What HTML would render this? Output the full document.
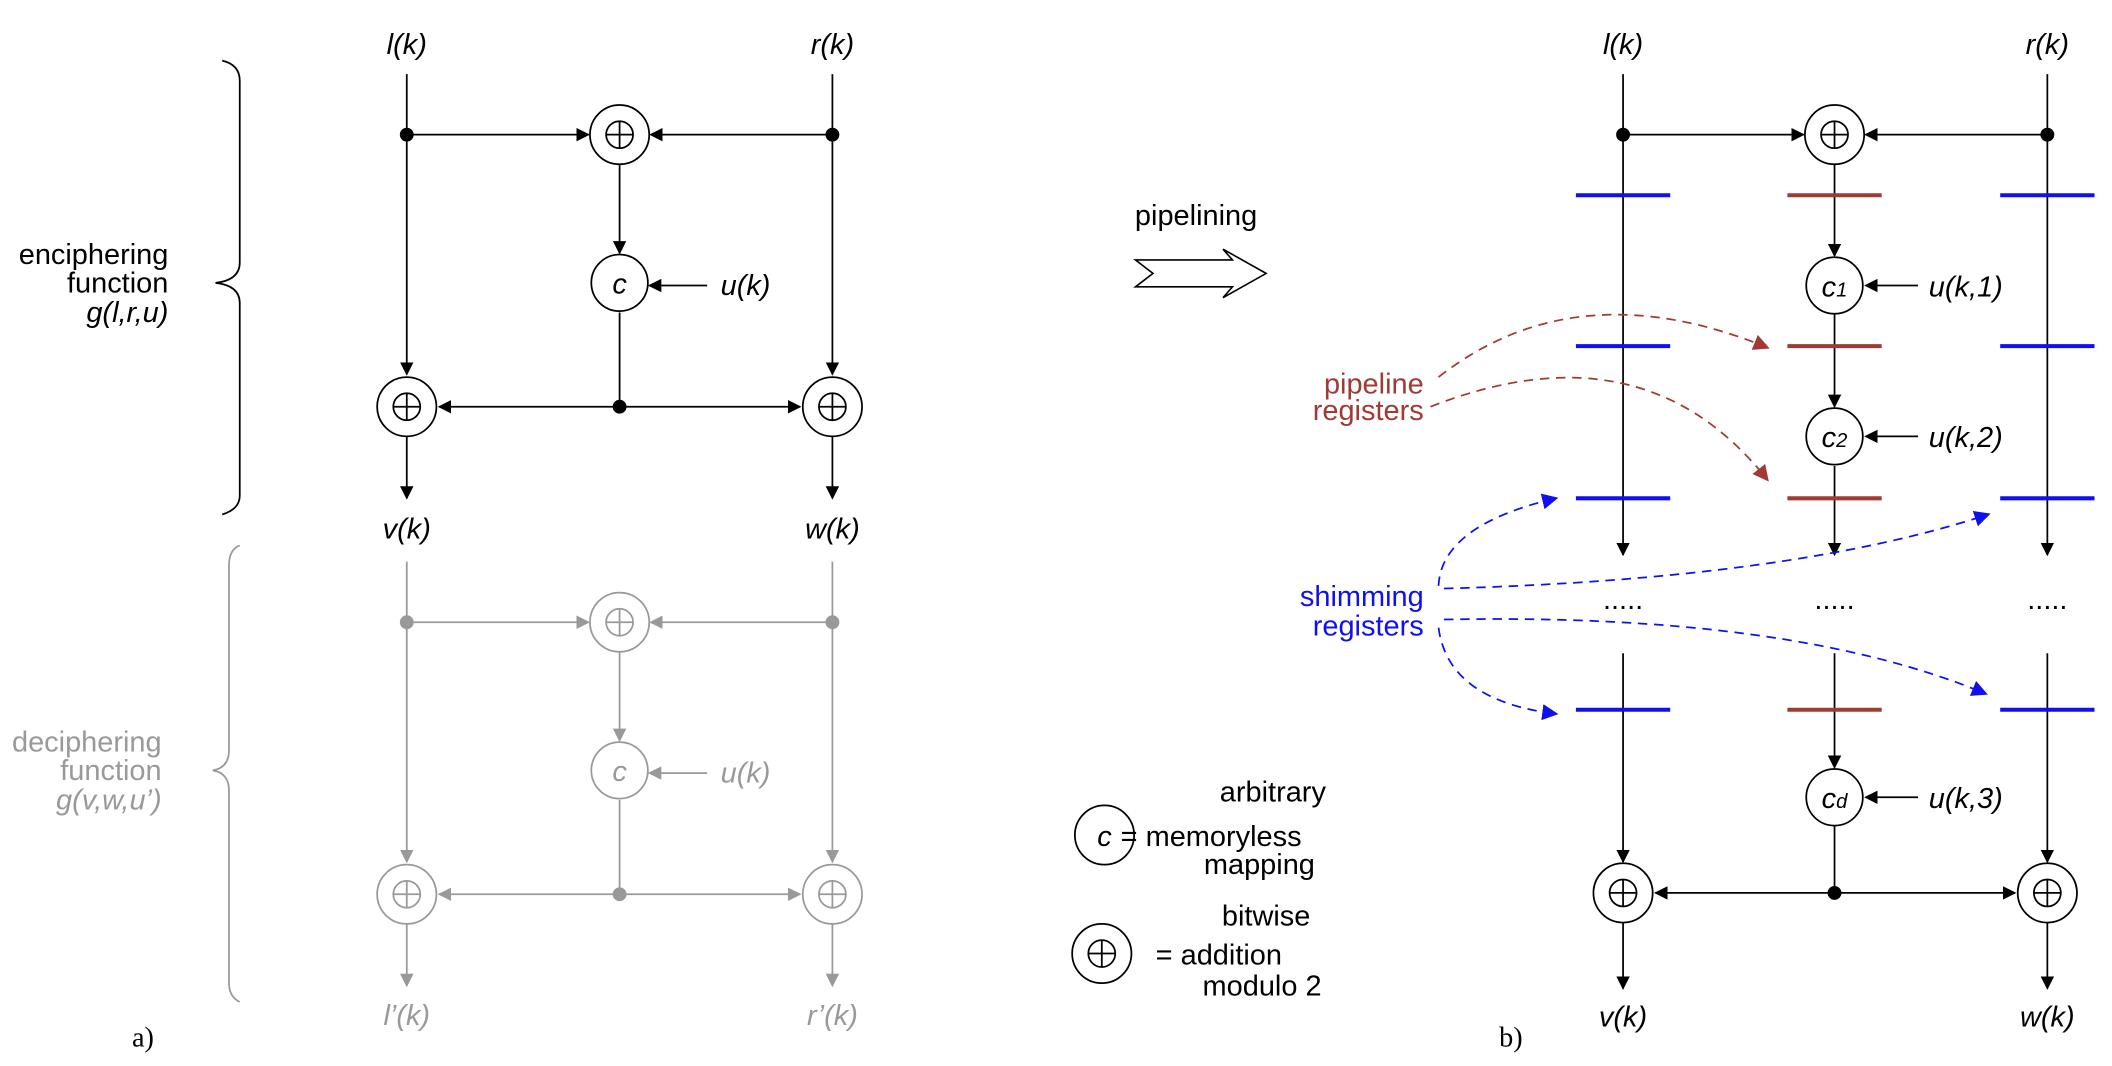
<!DOCTYPE html>
<html><head><meta charset="utf-8"><style>
html,body{margin:0;padding:0;background:#fff;}
svg{display:block;}
text{font-family:"Liberation Sans",Arial,sans-serif;font-size:21.5px;}
.it{font-style:italic;}
</style></head><body>
<svg width="2112" height="1066" viewBox="0 0 1568 791.5" preserveAspectRatio="none" xmlns="http://www.w3.org/2000/svg">
<defs>
<marker id="ak" markerWidth="10" markerHeight="10" refX="9" refY="5" orient="auto" markerUnits="userSpaceOnUse"><path d="M0,0 L10,5 L0,10 Z" fill="#000"/></marker>
<marker id="ag" markerWidth="10" markerHeight="10" refX="9" refY="5" orient="auto" markerUnits="userSpaceOnUse"><path d="M0,0 L10,5 L0,10 Z" fill="#999"/></marker>
<marker id="ar" markerWidth="12" markerHeight="12" refX="10" refY="6" orient="auto" markerUnits="userSpaceOnUse"><path d="M0,0 L12,6 L0,12 Z" fill="#a03a35"/></marker>
<marker id="ab" markerWidth="12" markerHeight="12" refX="10" refY="6" orient="auto" markerUnits="userSpaceOnUse"><path d="M0,0 L12,6 L0,12 Z" fill="#1010ee"/></marker>
</defs>

<g stroke="#000" fill="none" stroke-width="1.3">
<line x1="302" y1="55" x2="302" y2="278" marker-end="url(#ak)"/>
<line x1="618" y1="55" x2="618" y2="278" marker-end="url(#ak)"/>
<line x1="302" y1="100" x2="437" y2="100" marker-end="url(#ak)"/>
<line x1="618" y1="100" x2="483" y2="100" marker-end="url(#ak)"/>
<line x1="460" y1="122" x2="460" y2="188" marker-end="url(#ak)"/>
<line x1="525" y1="212" x2="482" y2="212" marker-end="url(#ak)"/>
<line x1="460" y1="232" x2="460" y2="302"/>
<line x1="460" y1="302" x2="326" y2="302" marker-end="url(#ak)"/>
<line x1="460" y1="302" x2="594" y2="302" marker-end="url(#ak)"/>
<line x1="302" y1="324" x2="302" y2="370" marker-end="url(#ak)"/>
<line x1="618" y1="324" x2="618" y2="370" marker-end="url(#ak)"/>
<circle cx="460" cy="100" r="22" fill="#fff"/><circle cx="460" cy="100" r="10"/><path d="M450,100H470M460,90V110"/>
<circle cx="460" cy="210" r="21" fill="#fff"/>
<circle cx="302" cy="302" r="22" fill="#fff"/><circle cx="302" cy="302" r="10"/><path d="M292,302H312M302,292V312"/>
<circle cx="618" cy="302" r="22" fill="#fff"/><circle cx="618" cy="302" r="10"/><path d="M608,302H628M618,292V312"/>
<circle cx="302" cy="100" r="4.5" fill="#000"/><circle cx="618" cy="100" r="4.5" fill="#000"/><circle cx="460" cy="302" r="4.5" fill="#000"/>
<path d="M165,45 Q178,48 178,60 L178,195 Q178,208 160,210 Q178,212 178,225 L178,368 Q178,378 165,382"/>
</g>
<text x="302" y="40" text-anchor="middle" class="it">l(k)</text>
<text x="618" y="40" text-anchor="middle" class="it">r(k)</text>
<text x="460" y="218" text-anchor="middle" class="it">c</text>
<text x="535" y="219" class="it">u(k)</text>
<text x="302" y="400" text-anchor="middle" class="it">v(k)</text>
<text x="618" y="400" text-anchor="middle" class="it">w(k)</text>
<text x="125" y="196" text-anchor="end">enciphering</text>
<text x="125" y="217" text-anchor="end">function</text>
<text x="125" y="239" text-anchor="end" class="it">g(l,r,u)</text>

<g stroke="#999" fill="none" stroke-width="1.3">
<line x1="302" y1="417" x2="302" y2="640" marker-end="url(#ag)"/>
<line x1="618" y1="417" x2="618" y2="640" marker-end="url(#ag)"/>
<line x1="302" y1="462" x2="437" y2="462" marker-end="url(#ag)"/>
<line x1="618" y1="462" x2="483" y2="462" marker-end="url(#ag)"/>
<line x1="460" y1="484" x2="460" y2="550" marker-end="url(#ag)"/>
<line x1="525" y1="574" x2="482" y2="574" marker-end="url(#ag)"/>
<line x1="460" y1="594" x2="460" y2="664"/>
<line x1="460" y1="664" x2="326" y2="664" marker-end="url(#ag)"/>
<line x1="460" y1="664" x2="594" y2="664" marker-end="url(#ag)"/>
<line x1="302" y1="686" x2="302" y2="732" marker-end="url(#ag)"/>
<line x1="618" y1="686" x2="618" y2="732" marker-end="url(#ag)"/>
<circle cx="460" cy="462" r="22" fill="#fff"/><circle cx="460" cy="462" r="10"/><path d="M450,462H470M460,452V472"/>
<circle cx="460" cy="572" r="21" fill="#fff"/>
<circle cx="302" cy="664" r="22" fill="#fff"/><circle cx="302" cy="664" r="10"/><path d="M292,664H312M302,654V674"/>
<circle cx="618" cy="664" r="22" fill="#fff"/><circle cx="618" cy="664" r="10"/><path d="M608,664H628M618,654V674"/>
<circle cx="302" cy="462" r="4.5" fill="#999"/><circle cx="618" cy="462" r="4.5" fill="#999"/><circle cx="460" cy="664" r="4.5" fill="#999"/>
<path d="M178,405 Q170,408 170,420 L170,557 Q170,570 158,572 Q170,574 170,587 L170,730 Q170,740 178,744"/>
</g>
<text x="460" y="580" text-anchor="middle" class="it" fill="#999">c</text>
<text x="535" y="581" class="it" fill="#999">u(k)</text>
<text x="302" y="761" text-anchor="middle" class="it" fill="#999">l’(k)</text>
<text x="618" y="761" text-anchor="middle" class="it" fill="#999">r’(k)</text>
<text x="120" y="558" text-anchor="end" fill="#999">deciphering</text>
<text x="120" y="579" text-anchor="end" fill="#999">function</text>
<text x="120" y="601" text-anchor="end" class="it" fill="#999">g(v,w,u’)</text>
<text x="98" y="777" style="font-family:'Liberation Serif',serif;font-size:21px">a)</text>

<text x="888" y="167" text-anchor="middle">pipelining</text>
<path d="M843,193 L915,193 L908,185 L940,203 L908,221 L915,213 L843,213 L856,203 Z" fill="#fff" stroke="#000" stroke-width="1.2"/>
<g stroke="#000" fill="none" stroke-width="1.3">
<circle cx="820" cy="620" r="22" fill="#fff"/>
<circle cx="818" cy="708" r="22"/><circle cx="818" cy="708" r="10"/><path d="M808,708H828M818,698V718"/>
</g>
<text x="820" y="628" text-anchor="middle" class="it">c</text>
<text x="945" y="595" text-anchor="middle">arbitrary</text>
<text x="832" y="628">= memoryless</text>
<text x="935" y="649" text-anchor="middle">mapping</text>
<text x="940" y="687" text-anchor="middle">bitwise</text>
<text x="858" y="716">= addition</text>
<text x="937" y="739" text-anchor="middle">modulo 2</text>

<g stroke="#000" fill="none" stroke-width="1.3">
<line x1="1205" y1="55" x2="1205" y2="412" marker-end="url(#ak)"/>
<line x1="1520" y1="55" x2="1520" y2="412" marker-end="url(#ak)"/>
<line x1="1205" y1="485" x2="1205" y2="640" marker-end="url(#ak)"/>
<line x1="1520" y1="485" x2="1520" y2="640" marker-end="url(#ak)"/>
<line x1="1205" y1="100" x2="1339" y2="100" marker-end="url(#ak)"/>
<line x1="1520" y1="100" x2="1385" y2="100" marker-end="url(#ak)"/>
<line x1="1362" y1="122" x2="1362" y2="190" marker-end="url(#ak)"/>
<line x1="1362" y1="233" x2="1362" y2="302" marker-end="url(#ak)"/>
<line x1="1362" y1="346" x2="1362" y2="412" marker-end="url(#ak)"/>
<line x1="1362" y1="485" x2="1362" y2="570" marker-end="url(#ak)"/>
<line x1="1362" y1="613" x2="1362" y2="663"/>
<line x1="1362" y1="663" x2="1229" y2="663" marker-end="url(#ak)"/>
<line x1="1362" y1="663" x2="1496" y2="663" marker-end="url(#ak)"/>
<line x1="1424" y1="212" x2="1385" y2="212" marker-end="url(#ak)"/>
<line x1="1424" y1="324" x2="1385" y2="324" marker-end="url(#ak)"/>
<line x1="1424" y1="592" x2="1385" y2="592" marker-end="url(#ak)"/>
<line x1="1205" y1="685" x2="1205" y2="734" marker-end="url(#ak)"/>
<line x1="1520" y1="685" x2="1520" y2="734" marker-end="url(#ak)"/>
<circle cx="1362" cy="100" r="22" fill="#fff"/><circle cx="1362" cy="100" r="10"/><path d="M1352,100H1372M1362,90V110"/>
<circle cx="1362" cy="212" r="21" fill="#fff"/>
<circle cx="1362" cy="324" r="21" fill="#fff"/>
<circle cx="1362" cy="592" r="21" fill="#fff"/>
<circle cx="1205" cy="663" r="22" fill="#fff"/><circle cx="1205" cy="663" r="10"/><path d="M1195,663H1215M1205,653V673"/>
<circle cx="1520" cy="663" r="22" fill="#fff"/><circle cx="1520" cy="663" r="10"/><path d="M1510,663H1530M1520,653V673"/>
<circle cx="1205" cy="100" r="4.5" fill="#000"/><circle cx="1520" cy="100" r="4.5" fill="#000"/><circle cx="1362" cy="663" r="4.5" fill="#000"/>
</g>
<g stroke="#1010ee" stroke-width="3">
<path d="M1170,145H1240M1485,145H1555M1170,257H1240M1485,257H1555M1170,370H1240M1485,370H1555M1170,527H1240M1485,527H1555"/>
</g>
<g stroke="#a03a35" stroke-width="3">
<path d="M1327,145H1397M1327,257H1397M1327,370H1397M1327,527H1397"/>
</g>
<text x="1362" y="220" text-anchor="middle" class="it">c<tspan font-size="15">1</tspan></text>
<text x="1362" y="332" text-anchor="middle" class="it">c<tspan font-size="15">2</tspan></text>
<text x="1362" y="600" text-anchor="middle" class="it">c<tspan font-size="15">d</tspan></text>
<text x="1432" y="220" class="it">u(k,1)</text>
<text x="1432" y="332" class="it">u(k,2)</text>
<text x="1432" y="600" class="it">u(k,3)</text>
<text x="1205" y="452" text-anchor="middle">.....</text>
<text x="1362" y="452" text-anchor="middle">.....</text>
<text x="1520" y="452" text-anchor="middle">.....</text>
<text x="1205" y="40" text-anchor="middle" class="it">l(k)</text>
<text x="1520" y="40" text-anchor="middle" class="it">r(k)</text>
<text x="1205" y="762" text-anchor="middle" class="it">v(k)</text>
<text x="1520" y="762" text-anchor="middle" class="it">w(k)</text>
<text x="1113" y="777" style="font-family:'Liberation Serif',serif;font-size:21px">b)</text>

<text x="1057" y="292" text-anchor="end" fill="#a03a35">pipeline</text>
<text x="1057" y="312" text-anchor="end" fill="#a03a35">registers</text>
<g fill="none" stroke="#a03a35" stroke-width="1.3" stroke-dasharray="7,5">
<path d="M1068,280 Q1170,200 1312,258" marker-end="url(#ar)"/>
<path d="M1062,302 Q1220,240 1312,356" marker-end="url(#ar)"/>
</g>
<text x="1057" y="450" text-anchor="end" fill="#1010ee">shimming</text>
<text x="1057" y="472" text-anchor="end" fill="#1010ee">registers</text>
<g fill="none" stroke="#1010ee" stroke-width="1.3" stroke-dasharray="7,5">
<path d="M1068,435 Q1070,390 1155,370" marker-end="url(#ab)"/>
<path d="M1072,437 Q1330,430 1476,382" marker-end="url(#ab)"/>
<path d="M1072,460 Q1330,455 1474,515" marker-end="url(#ab)"/>
<path d="M1068,466 Q1075,520 1155,530" marker-end="url(#ab)"/>
</g>
</svg>
</body></html>
